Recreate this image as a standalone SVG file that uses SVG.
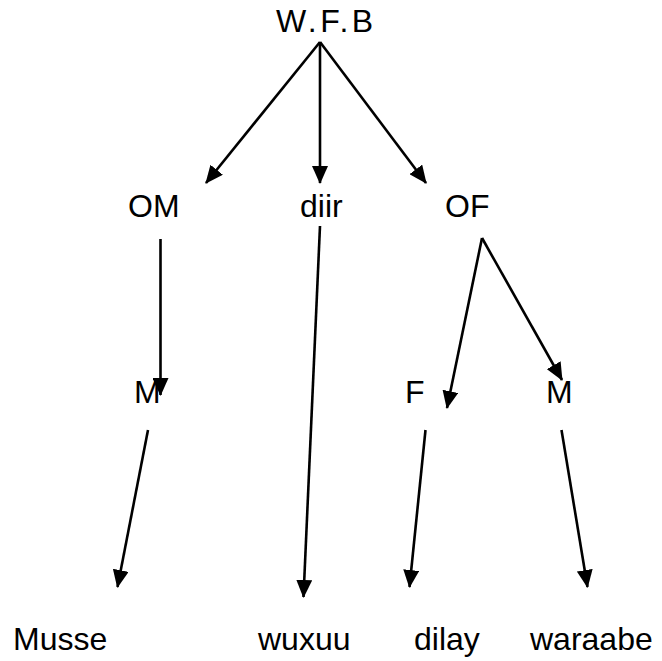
<svg xmlns="http://www.w3.org/2000/svg" width="662" height="661" viewBox="0 0 662 661">
<style>
text{font-family:"Liberation Sans",Arial,sans-serif;font-size:32px;fill:#000}
.c line{stroke:#000;stroke-width:2.6;marker-end:url(#ah)}
</style>
<defs>
<marker id="ah" markerUnits="userSpaceOnUse" markerWidth="18" markerHeight="16" refX="17" refY="8" orient="auto" viewBox="0 0 18 16">
<path d="M0,0 L18,8 L0,16 z" fill="#000"/>
</marker>
</defs>
<rect width="662" height="661" fill="#fff"/>
<g class="c" id="connectors">
<line x1="320" y1="42" x2="206" y2="183"/>
<line x1="320" y1="42" x2="320" y2="183"/>
<line x1="320" y1="42" x2="426" y2="183"/>
<line x1="160.5" y1="239" x2="160.5" y2="395"/>
<line x1="320" y1="226" x2="303.5" y2="597"/>
<line x1="482" y1="238" x2="447" y2="408"/>
<line x1="482" y1="238" x2="562" y2="380"/>
<line x1="148" y1="430" x2="117.5" y2="587"/>
<line x1="425.5" y1="430" x2="409.5" y2="587"/>
<line x1="561.5" y1="430" x2="587.5" y2="587"/>
</g>
<g id="n-wfb"><text x="276" y="32" letter-spacing="3.4">W.F.B</text></g>
<g id="n-om"><text x="128" y="217">OM</text></g>
<g id="n-diir"><text x="300" y="217">diir</text></g>
<g id="n-of"><text x="445" y="217">OF</text></g>
<g id="n-m1"><text x="134" y="403">M</text></g>
<g id="n-f"><text x="405" y="403">F</text></g>
<g id="n-m2"><text x="546" y="403">M</text></g>
<g id="n-musse"><text x="13" y="650">Musse</text></g>
<g id="n-wuxuu"><text x="258" y="650">wuxuu</text></g>
<g id="n-dilay"><text x="414" y="650">dilay</text></g>
<g id="n-waraabe"><text x="530" y="650">waraabe</text></g>
</svg>
